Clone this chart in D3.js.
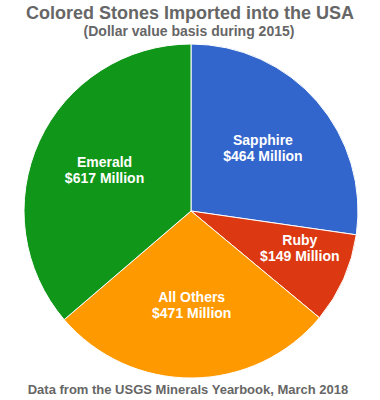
<!DOCTYPE html>
<html>
<head>
<meta charset="utf-8">
<script src="https://cdn.jsdelivr.net/npm/d3@7"></script>
<style>
  html, body { margin: 0; padding: 0; background: #fff; }
  svg { display: block; font-family: "Liberation Sans", Arial, sans-serif; }
</style>
</head>
<body>
<svg id="chart" width="380" height="400"></svg>
<script>
const categories = ["Sapphire", "Ruby", "All Others", "Emerald"];
const values = [464, 149, 471, 617];
const valueLabels = ["$464 Million", "$149 Million", "$471 Million", "$617 Million"];
const colors = ["#3366cc", "#dc3912", "#ff9900", "#109618"];
const titleText = "Colored Stones Imported into the USA";
const subtitleText = "(Dollar value basis during 2015)";
const footerText = "Data from the USGS Minerals Yearbook, March 2018";

const svg = d3.select("#chart");
const W = 380, H = 400;
const cx = 191, cy = 211, R = 167;

const data = categories.map((c, i) => ({ name: c, value: values[i], label: valueLabels[i], color: colors[i] }));

const pie = d3.pie().value(d => d.value).sort(null);
const arcs = pie(data);
const arc = d3.arc().innerRadius(0).outerRadius(R);

const g = svg.append("g").attr("transform", `translate(${cx},${cy})`);
g.selectAll("path").data(arcs).join("path")
  .attr("d", arc)
  .attr("fill", d => d.data.color)
  .attr("stroke", "#fff")
  .attr("stroke-width", 1);

const labels = g.selectAll("g.lbl").data(arcs).join("g").attr("class", "lbl")
  .attr("transform", d => {
    const span = d.endAngle - d.startAngle;
    const small = span / (2 * Math.PI) < 0.12;
    const r = small ? R * 0.69 : R * 0.57;
    const ang = d.startAngle + span * (small ? 0.35 : 0.5);
    const x = r * Math.sin(ang), y = -r * Math.cos(ang);
    return `translate(${x},${y})`;
  });
labels.append("text").attr("text-anchor", "middle").attr("y", -4)
  .attr("fill", "#fff").attr("font-weight", "bold").attr("font-size", 14)
  .text(d => d.data.name);
labels.append("text").attr("text-anchor", "middle").attr("y", 12)
  .attr("fill", "#fff").attr("font-weight", "bold").attr("font-size", 14)
  .text(d => d.data.label);

svg.append("text").attr("x", W / 2).attr("y", 19).attr("text-anchor", "middle")
  .attr("font-size", 18).attr("font-weight", "bold").attr("fill", "#666")
  .text(titleText);
svg.append("text").attr("x", 189).attr("y", 36).attr("text-anchor", "middle")
  .attr("font-size", 14).attr("font-weight", "bold").attr("fill", "#666")
  .text(subtitleText);
svg.append("text").attr("x", 188).attr("y", 394).attr("text-anchor", "middle")
  .attr("font-size", 13).attr("font-weight", "bold").attr("fill", "#666")
  .text(footerText);
</script>
</body>
</html>
